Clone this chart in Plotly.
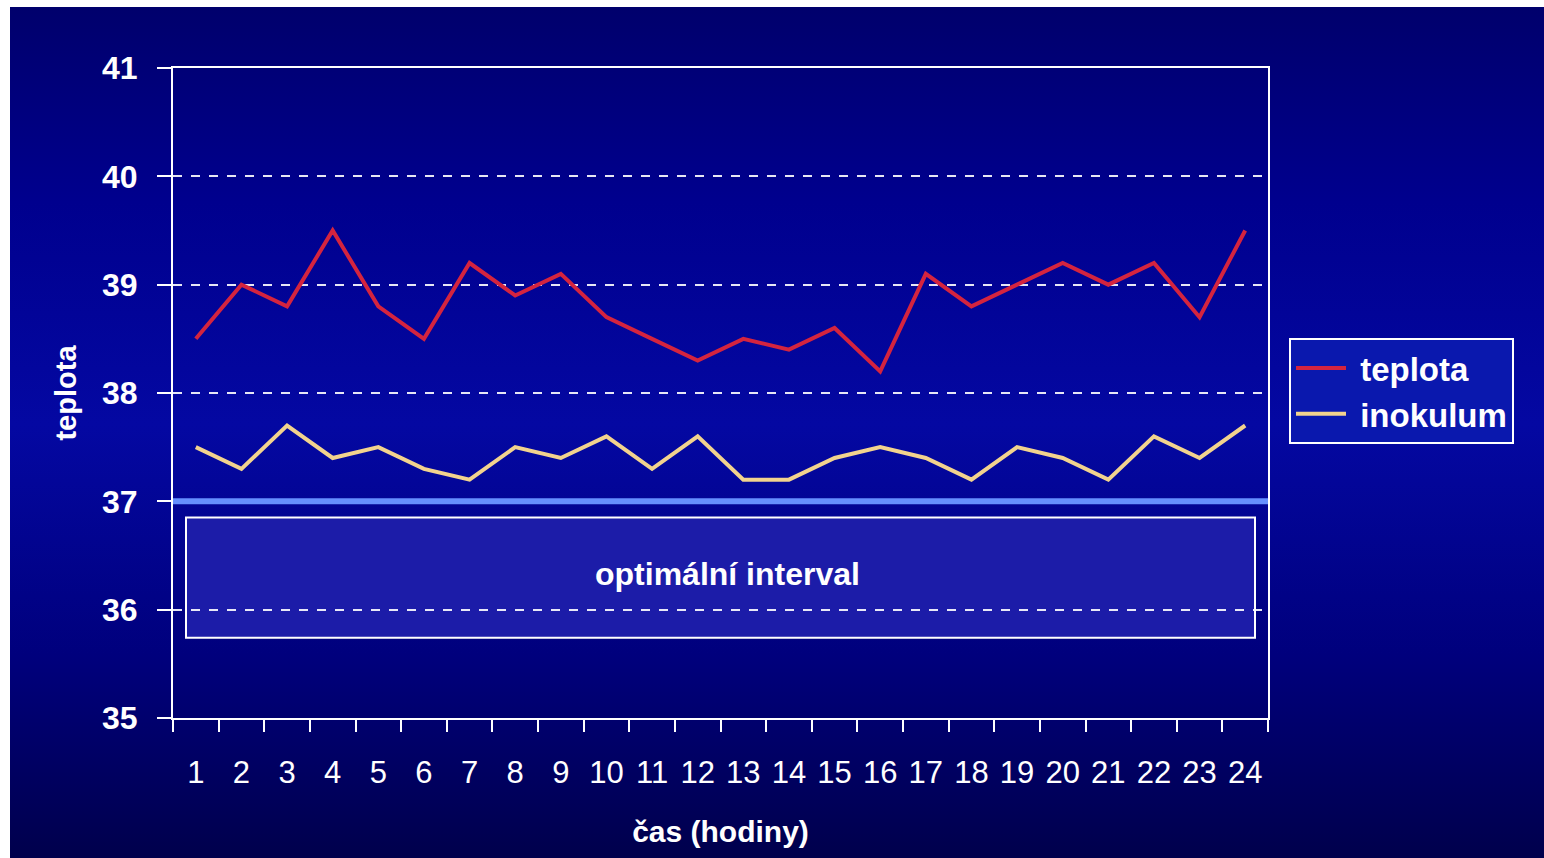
import base64
import plotly.graph_objects as go

# hodiny 1..24
hodiny = [str(h) for h in range(1, 25)]

teplota = [38.5, 39.0, 38.8, 39.5, 38.8, 38.5, 39.2, 38.9, 39.1, 38.7, 38.5, 38.3,
           38.5, 38.4, 38.6, 38.2, 39.1, 38.8, 39.0, 39.2, 39.0, 39.2, 38.7, 39.5]
inokulum = [37.5, 37.3, 37.7, 37.4, 37.5, 37.3, 37.2, 37.5, 37.4, 37.6, 37.3, 37.6,
            37.2, 37.2, 37.4, 37.5, 37.4, 37.2, 37.5, 37.4, 37.2, 37.6, 37.4, 37.7]

y_ticks = [35, 36, 37, 38, 39, 40, 41]
optimum_hranice = 37          # svetle modra cara
interval_od, interval_do = 35.74, 36.85

FONT = "Liberation Sans, Arial, sans-serif"

# plot area in pixels: x 173..1268, y 68..718
L, R, T, B = 173, 276, 68, 140
W, H = 1544, 858
pw, ph = W - L - R, H - T - B


def px2paper_x(px):
    return (px - L) / pw


def px2paper_y(py):
    return (H - B - py) / ph


# background gradient of the slide as an svg image
svg = (
    '<svg xmlns="http://www.w3.org/2000/svg" width="100" height="100" preserveAspectRatio="none">'
    '<defs><linearGradient id="g" x1="0" y1="0" x2="0" y2="1">'
    '<stop offset="0" stop-color="#00006c"/>'
    '<stop offset="0.23" stop-color="#00008e"/>'
    '<stop offset="0.49" stop-color="#0408a2"/>'
    '<stop offset="0.76" stop-color="#00007d"/>'
    '<stop offset="1" stop-color="#00004c"/>'
    '</linearGradient></defs>'
    '<rect width="100" height="100" fill="url(#g)"/></svg>'
)
bg_src = "data:image/svg+xml;base64," + base64.b64encode(svg.encode()).decode()

fig = go.Figure()

fig.add_trace(go.Scatter(x=hodiny, y=teplota, name="<b> teplota</b>", mode="lines",
                         line=dict(color="#d4243f", width=4)))
fig.add_trace(go.Scatter(x=hodiny, y=inokulum, name="<b> inokulum</b>", mode="lines",
                         line=dict(color="#f2d38e", width=4)))

shapes = [
    # optimalni interval
    dict(type="rect", xref="paper", yref="y", layer="below",
         x0=px2paper_x(186), x1=px2paper_x(1255), y0=interval_od, y1=interval_do,
         line=dict(color="white", width=2), fillcolor="#1c1ca8"),
    dict(type="line", xref="paper", yref="y", layer="above",
         x0=0, x1=1, y0=optimum_hranice, y1=optimum_hranice,
         line=dict(color="#6690ff", width=6)),
]

fig.add_annotation(x=px2paper_x(727), xref="paper", y=(interval_od + interval_do) / 2 + 0.03,
                   yref="y", text="<b>optimální interval</b>", showarrow=False,
                   font=dict(family=FONT, size=32, color="white"))

fig.add_layout_image(dict(source=bg_src, xref="paper", yref="paper",
                          x=px2paper_x(10), y=px2paper_y(7),
                          sizex=(W - 10) / pw, sizey=(H - 7) / ph,
                          xanchor="left", yanchor="top", sizing="stretch", layer="below"))

fig.update_layout(
    width=W, height=H,
    margin=dict(l=L, r=R, t=T, b=B),
    paper_bgcolor="white",
    plot_bgcolor="rgba(0,0,0,0)",
    shapes=shapes,
    font=dict(family=FONT, color="white"),
    showlegend=True,
    legend=dict(x=px2paper_x(1289), y=px2paper_y(338), xanchor="left", yanchor="top",
                bgcolor="#0a18ae", bordercolor="white", borderwidth=2,
                font=dict(family=FONT, size=33, color="white"),
                itemwidth=50, tracegroupgap=0),
)

fig.update_xaxes(
    type="category", range=[-0.5, 23.5], tickson="boundaries", ticks="outside",
    ticklen=12, tickwidth=2,
    tickcolor="white", showline=True, linecolor="white", linewidth=2, mirror=True,
    showgrid=False, tickangle=0, tickfont=dict(family=FONT, size=31, color="white"),
    ticklabelstandoff=26,
    title=dict(text="<b>čas (hodiny)</b>", font=dict(family=FONT, size=30, color="white"),
               standoff=32),
)
fig.update_yaxes(
    range=[35, 41], tickvals=y_ticks, ticktext=["<b>%d</b>" % v for v in y_ticks],
    ticks="outside", ticklen=14, tickwidth=2,
    tickcolor="white", showline=True, linecolor="white", linewidth=2, mirror=True,
    showgrid=True, gridcolor="rgba(255,255,255,0.9)", gridwidth=2, griddash="dash",
    zeroline=False,
    tickfont=dict(family=FONT, size=32, color="white"),
    ticklabelstandoff=13,
    title=dict(text="<b>teplota</b>", font=dict(family=FONT, size=29, color="white"),
               standoff=17),
)

fig.write_html("out.html", config={"displayModeBar": False},
               post_script="document.body.style.margin='0';")
